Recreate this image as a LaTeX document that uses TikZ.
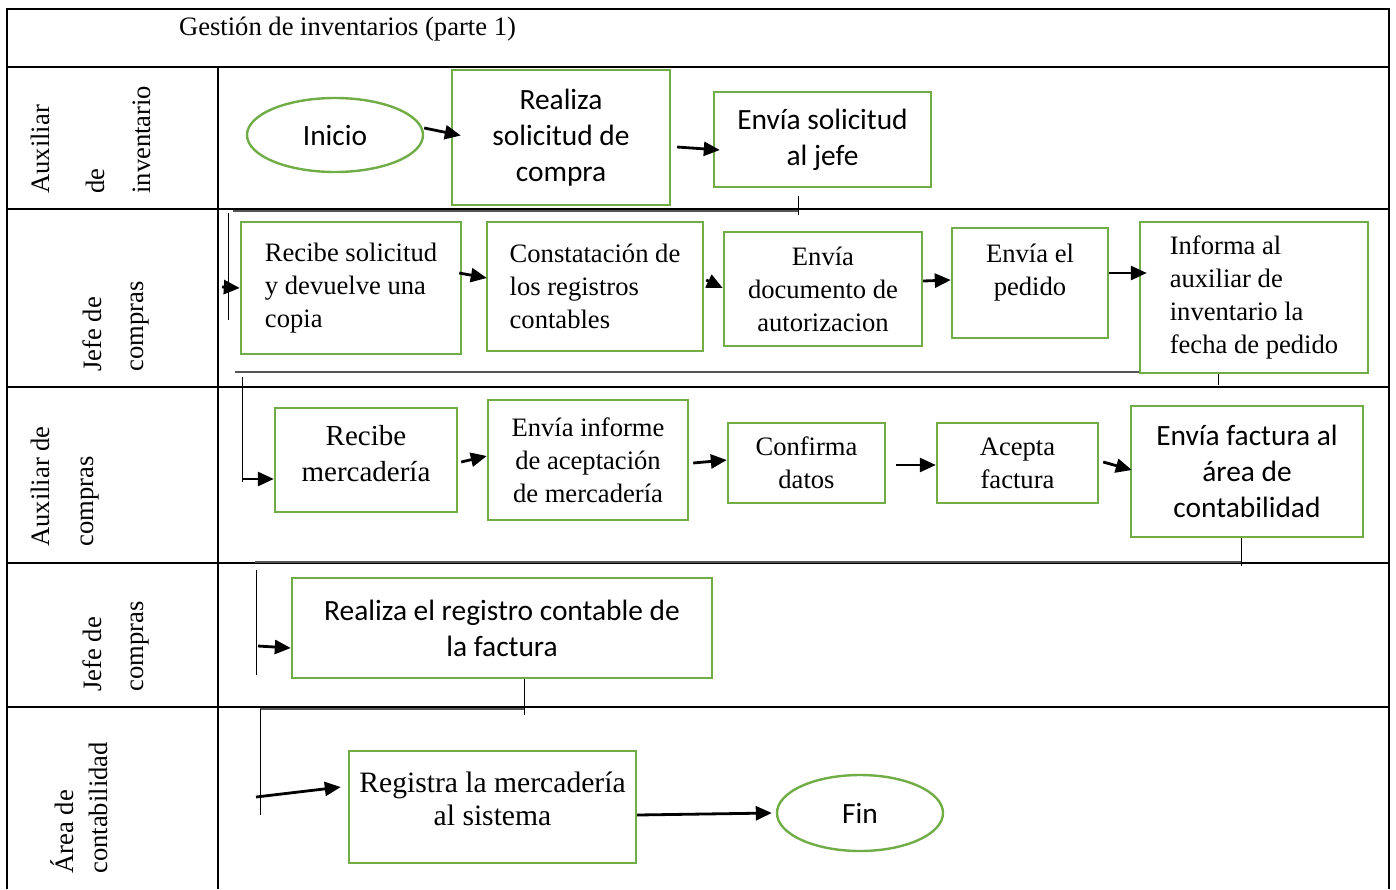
\documentclass[tikz,border=0pt]{standalone}
\usepackage{fontspec}
\setmainfont{Liberation Serif}
\newfontfamily\calibrifont{Carlito}
\usepackage{xcolor}
\definecolor{leaf}{HTML}{70AD47}
\definecolor{slate}{HTML}{555555}
\usepackage{tikz}
\usetikzlibrary{arrows.meta, shapes.geometric, calc}

\newcommand{\serifsz}{\fontsize{13.3}{16.5}\selectfont}
\newcommand{\sanssz}{\calibrifont\fontsize{14.7}{18}\selectfont}

\begin{document}
\begin{tikzpicture}[x=0.5pt, y=-0.5pt,
  tableline/.style={line width=1.3pt},
  box/.style={draw=leaf, line width=1.2pt, inner sep=0pt, align=center, font=\serifsz},
  sz/.style 2 args={minimum width=#1*0.5pt, minimum height=#2*0.5pt},
  sansbox/.style={box, font=\sanssz},
  term/.style={ellipse, draw=leaf, line width=1.2pt, inner sep=0pt, font=\sanssz},
  lane/.style={rotate=90, anchor=west, inner sep=0pt, font=\serifsz},
  arr/.style={line width=1.4pt, -{Triangle[length=8pt, width=7pt]}},
  wire/.style={line width=0.5pt},
  ledge/.style={line width=0.9pt, draw=slate}]
  \useasboundingbox (0,0) rectangle (1396,889);

  % Title and table
  \node[anchor=base west, font=\serifsz] (title) at (172,35) {Gestión de inventarios (parte 1)};
  \draw[tableline] (7,889) -- (7,9) -- (1389,9) -- (1389,889);
  \foreach \y in {67,209,387,563,707}
    \draw[tableline] (7,\y) -- (1389,\y);
  \draw[tableline] (218,67) -- (218,889);

  % Lane labels
  \node[lane] (l1a) at (40,194) {Auxiliar};
  \node[lane] (l1b) at (95,194) {de};
  \node[lane] (l1c) at (142,194) {inventario};
  \node[lane] (l2a) at (92,372) {Jefe de};
  \node[lane] (l2b) at (140,372) {compras};
  \node[lane] (l3a) at (40,547) {Auxiliar de};
  \node[lane] (l3b) at (90,547) {compras};
  \node[lane] (l4a) at (92,692) {Jefe de};
  \node[lane] (l4b) at (140,692) {compras};
  \node[lane] (l5a) at (62,874) {Área de};
  \node[lane] (l5b) at (98,874) {contabilidad};

  % Auxiliar de inventario
  \node[term, minimum width=88pt, minimum height=37pt] (ini) at (335,135) {Inicio};
  \node[sansbox, sz={218}{135}] (sol) at (561,137.5) {Realiza\\solicitud de\\compra};
  \node[sansbox, sz={217}{95}] (env) at (822.5,139.5) {Envía solicitud\\al jefe};
  \draw[arr] ([yshift=3.5pt]ini.east) -- ([shift={(5pt,1pt)}]sol.west);
  \draw[arr] ([shift={(3pt,-4.75pt)}]sol.east) -- ([shift={(3.5pt,-5.25pt)}]env.west);

  % Jefe de compras
  \node[box, align=left, sz={220}{132}] (rec) at (351,288) {Recibe solicitud\\y devuelve una\\copia};
  \node[box, align=left, sz={216}{129}] (cons) at (595,286.5) {Constatación de\\los registros\\contables};
  \node[box, sz={198}{114}] (doc) at (823,289) {Envía\\documento de\\autorizacion};
  \node[box, sz={156}{110}, text depth=13pt] (ped) at (1030,283) {Envía el\\pedido};
  \node[box, align=left, sz={228}{151}] (inf) at (1254,297.5) {Informa al\\auxiliar de\\inventario la\\fecha de pedido};
  \draw[arr] ([shift={(-1.5pt,7.5pt)}]rec.east) -- ([shift={(0.5pt,4.25pt)}]cons.west);
  \draw[arr] ([shift={(1pt,3.25pt)}]cons.east) -- ([yshift=0.5pt]doc.west);
  \draw[arr] ([yshift=4pt]doc.east) -- ([yshift=1.5pt]ped.west);
  \draw[arr] ([yshift=5pt]ped.east) -- ([shift={(4pt,12.25pt)}]inf.west);

  % Auxiliar de compras
  \node[box, sz={182}{104}, text depth=7pt, font=\fontsize{14.5}{18}\selectfont] (merc) at (366,460) {Recibe\\mercadería};
  \node[box, sz={200}{120}] (inform) at (588,460) {Envía informe\\de aceptación\\de mercadería};
  \node[box, sz={157}{80}] (conf) at (806.5,463) {Confirma\\datos};
  \node[box, sz={161}{80}] (acep) at (1017.5,463) {Acepta\\factura};
  \node[sansbox, sz={232}{131}] (envf) at (1247,471.5) {Envía factura al\\área de\\contabilidad};
  \draw[arr] ([shift={(1.5pt,-1pt)}]merc.east) -- ([yshift=2pt]inform.west);
  \draw[arr] ([shift={(2pt,-1.5pt)}]inform.east) -- ([yshift=1.5pt]conf.west);
  \draw[arr] ([shift={(5pt,-1pt)}]conf.east) -- ([yshift=-1pt]acep.west);
  \draw[arr] ([shift={(2pt,0.5pt)}]acep.east) -- ([shift={(1pt,0.75pt)}]envf.west);

  % Jefe de compras (registro)
  \node[sansbox, sz={420}{100}] (regc) at (502,628) {Realiza el registro contable de\\la factura};

  % Area de contabilidad
  \node[box, sz={287}{112}, text depth=8pt, font=\fontsize{14.8}{16.5}\selectfont] (regs) at (492.5,807) {Registra la mercadería\\al sistema};
  \node[term, minimum width=83pt, minimum height=38pt] (fin) at (860,813) {Fin};
  \draw[arr] ([yshift=-4pt]regs.east) -- ([xshift=-2pt]fin.west);

  % Hand-offs between lanes
  \coordinate (k1) at (798,215);
  \draw[wire] ($(env.south -| k1)+(0,-4pt)$) -- (k1);
  \coordinate (h1) at (233,211);
  \draw[ledge] (h1) -- (h1 -| k1);
  \coordinate (v1) at (228,213);
  \draw[wire] (v1) -- ++(0,107);
  \coordinate (a1) at (222,287);
  \draw[arr] (a1) -- (rec.west);

  \coordinate (k2) at (1218,385);
  \draw[wire] (inf.south -| k2) -- (k2);
  \coordinate (h2) at (235,372);
  \draw[ledge] (h2) -- (h2 -| inf.west);
  \coordinate (v2) at (242,377);
  \draw[wire] (v2) -- ++(0,105);
  \coordinate (a2) at (242,479);
  \draw[arr] (a2) -- ([yshift=-9.5pt]merc.west);

  \coordinate (k3) at (1241,566);
  \draw[wire] (envf.south -| k3) -- (k3);
  \coordinate (h3) at (255,562);
  \draw[ledge] (h3) -- (h3 -| k3);
  \coordinate (v3) at (256,570);
  \draw[wire] (v3) -- ++(0,105);
  \coordinate (a3) at (258,646);
  \draw[arr] (a3) -- ([yshift=-10pt]regc.west);

  \coordinate (k4) at (524,715);
  \draw[wire] (regc.south -| k4) -- (k4);
  \coordinate (h4) at (260,709);
  \draw[ledge] (h4) -- (h4 -| k4);
  \draw[wire] (h4) -- ++(0,106);
  \coordinate (a4) at (256,797);
  \draw[arr] (a4) -- ([shift={(-3.5pt,10pt)}]regs.west);
\end{tikzpicture}
\end{document}
